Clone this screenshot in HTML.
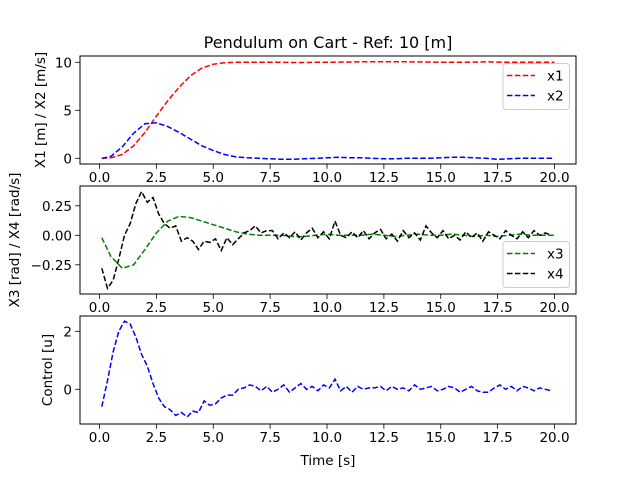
<!DOCTYPE html>
<html><head><meta charset="utf-8"><style>
body{margin:0;background:#fff}
svg{display:block;font-family:"DejaVu Sans","Liberation Sans",sans-serif}
</style></head><body>
<svg id="chart" width="640" height="477" viewBox="0 0 640 477" xmlns="http://www.w3.org/2000/svg">
<rect width="640" height="477" fill="#fff"/>
<text x="328" y="48" font-size="16" text-anchor="middle">Pendulum on Cart - Ref: 10 [m]</text>
<text x="328" y="465" font-size="13.5" text-anchor="middle">Time [s]</text>
<text transform="translate(45,110) rotate(-90)" font-size="13.5" text-anchor="middle">X1 [m] / X2 [m/s]</text>
<text transform="translate(19,240) rotate(-90)" font-size="13.5" text-anchor="middle">X3 [rad] / X4 [rad/s]</text>
<text transform="translate(52,370) rotate(-90)" font-size="13.5" text-anchor="middle">Control [u]</text>
</svg>
<script>
const tSmooth=[0.1,0.5,1,1.5,2,2.5,3,3.5,4,4.5,5,5.5,6,6.5,7,7.5,8,8.5,9,9.5,10,10.5,11,11.5,12,12.5,13,13.5,14,14.5,15,15.5,16,16.5,17,17.5,18,18.5,19,19.5,20];
const x1=[0,0.05,0.4,1.3,2.7,4.4,6.0,7.4,8.6,9.4,9.8,9.95,10,10,10,10,10,9.98,9.98,10,10,10.02,10.03,10.05,10.05,10.05,10.05,10.05,10.04,10.02,10,10,10,10.02,10.05,10.02,10,10,10,10,10];
const x2=[0,0.2,1.2,2.6,3.6,3.7,3.3,2.7,2.0,1.3,0.8,0.4,0.15,0.05,0,-0.05,-0.1,-0.1,-0.05,0,0.05,0.1,0.05,0.05,0,-0.05,-0.05,0,0,0,0.05,0.1,0.1,0.05,0,-0.1,-0.05,0,0,0,0];
const x3=[-0.02,-0.18,-0.28,-0.25,-0.12,0.02,0.12,0.16,0.15,0.12,0.09,0.06,0.03,0.01,0,0,0,-0.01,-0.01,0,0.01,0,0,0,0.01,0,-0.01,0,0.01,0,0,0.01,0,-0.01,0,-0.01,0,0.01,0,0,0];
const tNoisy=[];for(let i=0;i<80;i++)tNoisy.push(0.1+0.25*i);
const x4=[-0.28,-0.45,-0.38,-0.2,0,0.1,0.27,0.37,0.28,0.32,0.18,0.1,0.06,0.08,-0.05,-0.02,-0.05,-0.12,-0.05,-0.06,-0.03,-0.13,-0.02,-0.08,-0.03,0.02,0.04,0.08,0.02,0.04,
0.04,-0.03,0.02,-0.02,0.03,-0.04,0.02,0.06,-0.02,0.03,-0.03,0.12,0.0,-0.02,0.03,-0.02,0.04,-0.03,0.02,0.05,-0.03,0.01,-0.05,0.04,-0.02,0.02,-0.04,0.08,0.02,-0.02,0.04,-0.03,0.0,-0.04,0.03,-0.02,0.02,-0.05,0.03,0.0,-0.03,0.04,0.0,-0.03,0.03,-0.02,0.04,0.0,0.02,0.0];
const u=[-0.6,0.3,1.3,2.0,2.35,2.25,1.8,1.2,0.8,0.2,-0.3,-0.6,-0.7,-0.9,-0.8,-0.95,-0.75,-0.8,-0.4,-0.55,-0.5,-0.3,-0.2,-0.2,0,0.05,0.15,0.1,
-0.05,0.1,-0.1,0.0,0.15,-0.1,0.05,0.2,0.0,0.1,-0.05,0.15,0.05,0.35,-0.05,0.1,-0.1,0.1,0.0,0.05,0.05,0.1,-0.05,0.1,0.0,0.05,-0.05,0.15,0.0,0.05,0.1,-0.05,0.0,0.1,0.05,-0.1,0.0,0.1,-0.05,-0.1,-0.1,0.05,0.15,0.0,0.1,-0.05,0.1,0.05,-0.05,0.05,0.0,-0.05];
const xTicks=[0,2.5,5,7.5,10,12.5,15,17.5,20];
const xTickLabels=["0.0","2.5","5.0","7.5","10.0","12.5","15.0","17.5","20.0"];
const yTicks1=[0,5,10],yTicks2=[-0.25,0,0.25],yTickLabels2=["\u22120.25","0.00","0.25"],yTicks3=[0,2];

const NS="http://www.w3.org/2000/svg";const svg=document.getElementById('chart');
function mk(tag,attrs,parent){const e=document.createElementNS(NS,tag);for(const k in attrs)e.setAttribute(k,attrs[k]);(parent||svg).appendChild(e);return e;}
const L=80,R=576;
function X(v){return 99.5+22.75*v;}
const panels=[
 {top:56,bot:164,y0:158.3,k:9.6,ticks:yTicks1,labels:["0","5","10"],name:'position'},
 {top:186,bot:294,y0:235.3,k:118,ticks:yTicks2,labels:yTickLabels2,name:'angle'},
 {top:316,bot:424,y0:389.3,k:29,ticks:yTicks3,labels:["0","2"],name:'control'}];
panels.forEach(p=>{p.Y=v=>p.y0-p.k*v;});
function line(p,ts,vs,color,name){
 const d=ts.map((t,i)=>(i?'L':'M')+X(t).toFixed(1)+' '+p.Y(vs[i]).toFixed(1)).join(' ');
 const el=mk('path',{d:d,fill:'none',stroke:color,'stroke-width':1.5,'stroke-dasharray':'5.5 2.4'});
 
 
}
panels.forEach((p,pi)=>{
 const g=mk('g',{});
 
 
 xTicks.forEach((t,i)=>{
  mk('line',{x1:X(t),x2:X(t),y1:p.bot,y2:p.bot+4.9,stroke:'#000','stroke-width':0.8},g);
  const tx=mk('text',{x:X(t),y:p.bot+18,'font-size':13.5,'text-anchor':'middle'},g);tx.textContent=xTickLabels[i];
  
  
 });
 p.ticks.forEach((v,i)=>{
  const y=p.Y(v);
  mk('line',{x1:L-4.9,x2:L,y1:y,y2:y,stroke:'#000','stroke-width':0.8},g);
  const tx=mk('text',{x:L-8,y:y+5,'font-size':13.5,'text-anchor':'end'},g);tx.textContent=p.labels[i];
  
  
 });
});
const cp=document.createElementNS(NS,'clipPath');
line(panels[0],tSmooth,x1,'#ff0000','line-x1');
line(panels[0],tSmooth,x2,'#0000ff','line-x2');
line(panels[1],tSmooth,x3,'#008000','line-x3');
line(panels[1],tNoisy,x4,'#000000','line-x4');
line(panels[2],tNoisy,u,'#0000ff','line-control');
panels.forEach(p=>{
 const r=mk('rect',{x:L,y:p.top,width:R-L,height:p.bot-p.top,fill:'none',stroke:'#000','stroke-width':1});
 
 
});
function legend(y,items){
 const g=mk('g',{});
 
 
 mk('rect',{x:503,y:y,width:66.5,height:46,rx:3,fill:'#fff','fill-opacity':0.8,stroke:'#cccccc','stroke-width':1},g);
 items.forEach((it,i)=>{
  const yy=y+12+i*20;
  mk('line',{x1:507,x2:535,y1:yy,y2:yy,stroke:it[1],'stroke-width':1.5,'stroke-dasharray':'5.5 2.4'},g);
  const t=mk('text',{x:547,y:yy+5,'font-size':13.5},g);t.textContent=it[0];
  
  
 });
}
legend(63.5,[['x1','#ff0000'],['x2','#0000ff']]);
legend(241.5,[['x3','#008000'],['x4','#000000']]);
</script>
</body></html>
